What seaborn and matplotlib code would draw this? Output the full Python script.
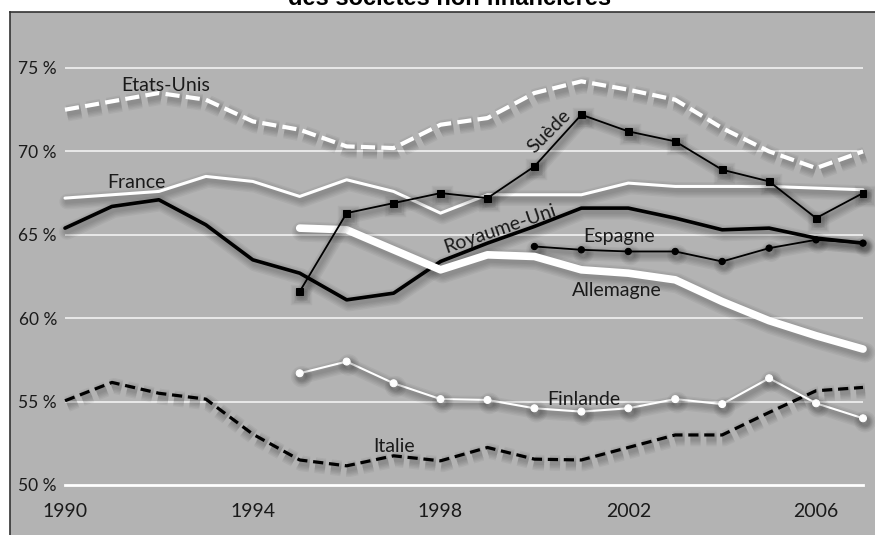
import numpy as np
import pandas as pd
import matplotlib
matplotlib.use("Agg")
import matplotlib.pyplot as plt
import matplotlib.patheffects as pe
import seaborn as sns

nan = np.nan

# Years and share series (%)
years = list(range(1990, 2008))
etats_unis = [72.5, 73.0, 73.5, 73.1, 71.8, 71.3, 70.3, 70.2, 71.6, 72.0,
              73.5, 74.2, 73.7, 73.1, 71.4, 70.0, 69.0, 70.0]
france = [67.2, 67.4, 67.6, 68.5, 68.2, 67.3, 68.3, 67.6, 66.3, 67.4,
          67.4, 67.4, 68.1, 67.9, 67.9, 67.9, 67.8, 67.7]
royaume_uni = [65.4, 66.7, 67.1, 65.6, 63.5, 62.7, 61.1, 61.5, 63.4, 64.5,
               65.5, 66.6, 66.6, 66.0, 65.3, 65.4, 64.8, 64.5]
suede = [nan, nan, nan, nan, nan, 61.6, 66.3, 66.9, 67.5, 67.2,
         69.1, 72.2, 71.2, 70.6, 68.9, 68.2, 66.0, 67.5]
allemagne = [nan, nan, nan, nan, nan, 65.4, 65.3, 64.1, 62.9, 63.8,
             63.7, 62.9, 62.7, 62.3, 61.0, 59.85, 58.95, 58.15]
espagne = [nan, nan, nan, nan, nan, nan, nan, nan, nan, nan,
           64.3, 64.1, 64.0, 64.0, 63.4, 64.2, 64.7, 64.5]
finlande = [nan, nan, nan, nan, nan, 56.7, 57.4, 56.1, 55.15, 55.1,
            54.6, 54.4, 54.6, 55.15, 54.85, 56.4, 54.9, 54.0]
italie = [55.05, 56.15, 55.5, 55.15, 53.05, 51.5, 51.15, 51.75, 51.45, 52.25,
          51.55, 51.5, 52.25, 53.0, 53.0, 54.35, 55.65, 55.85]

y_ticks = [50, 55, 60, 65, 70, 75]
y_tick_labels = ["50 %", "55 %", "60 %", "65 %", "70 %", "75 %"]
x_major = [1990, 1994, 1998, 2002, 2006]
x_minor = [1992, 1996, 2000, 2004, 2007]

df = pd.DataFrame({
    "annee": years,
    "Etats-Unis": etats_unis,
    "France": france,
    "Royaume-Uni": royaume_uni,
    "Suède": suede,
    "Allemagne": allemagne,
    "Espagne": espagne,
    "Finlande": finlande,
    "Italie": italie,
})
long = df.melt(id_vars="annee", var_name="pays", value_name="part").dropna()

sns.set_style("white")
plt.rcParams["font.family"] = ["Lato", "DejaVu Sans"]

BG = "#b3b3b3"
INK = "#1a1a1a"

fig = plt.figure(figsize=(8.75, 5.35), dpi=100)
fig.patch.set_facecolor("white")
ax = fig.add_axes([10 / 875, 0, 865 / 875, 523 / 535])
ax.set_facecolor(BG)

px_year = 798 / 17
px_pct = 417 / 25
x0 = 1990 - 55 / px_year
y1 = 75 + 56 / px_pct
ax.set_xlim(x0, x0 + 865 / px_year)
ax.set_ylim(y1 - 523 / px_pct, y1)


def soft_shadow(lw):
    # several wide, faint offset strokes give a blurred drop shadow
    fx = [pe.SimpleLineShadow(offset=(1.5, -2.5), shadow_color="black",
                              alpha=0.045, linewidth=lw + w)
          for w in (9, 7, 5, 3, 1)]
    return fx + [pe.Normal()]


# White horizontal guides
for v in y_ticks[1:]:
    ax.hlines(v, 1990, 2007, color="#f2f2f2", linewidth=1.2, zorder=1)

styles = {
    "Italie": dict(color="black", linewidth=2.3, linestyle=(0, (3.2, 1.8))),
    "Finlande": dict(color="white", linewidth=1.5, marker="o", markersize=5,
                     markeredgecolor="white", markerfacecolor="white"),
    "Espagne": dict(color="black", linewidth=1.3, marker="o", markersize=4.5,
                    markeredgecolor="black", markerfacecolor="black"),
    "Royaume-Uni": dict(color="black", linewidth=2.6),
    "Allemagne": dict(color="white", linewidth=5.5, solid_capstyle="round"),
    "France": dict(color="white", linewidth=2.2),
    "Suède": dict(color="black", linewidth=1.3, marker="s", markersize=5,
                  markeredgecolor="black", markerfacecolor="black"),
    "Etats-Unis": dict(color="white", linewidth=3.0, linestyle=(0, (3.4, 1.5))),
}

for z, (pays, kw) in enumerate(styles.items()):
    sub = long[long["pays"] == pays]
    sns.lineplot(data=sub, x="annee", y="part", ax=ax, zorder=3 + z,
                 path_effects=soft_shadow(kw["linewidth"]), **kw)

# Series names
lab = dict(color=INK, fontsize=14, zorder=20)
ax.text(1992.15, 73.65, "Etats-Unis", ha="center", va="baseline", **lab)
ax.text(1991.52, 67.8, "France", ha="center", va="baseline", **lab)
ax.text(2001.8, 64.57, "Espagne", ha="center", va="baseline", **lab)
ax.text(2001.76, 61.33, "Allemagne", ha="center", va="baseline", **lab)
ax.text(2001.05, 54.8, "Finlande", ha="center", va="baseline", **lab)
ax.text(1997.01, 52.0, "Italie", ha="center", va="baseline", **lab)
ax.text(2000.32, 71.22, "Suède", ha="center", va="center", rotation=45,
        rotation_mode="anchor", **lab)
ax.text(1999.26, 65.35, "Royaume-Uni", ha="center", va="center", rotation=19,
        rotation_mode="anchor", **lab)

# Axes styling
for s in ("left", "top"):
    ax.spines[s].set_color("#333333")
    ax.spines[s].set_linewidth(1.2)
ax.spines["right"].set_visible(False)

ax.spines["bottom"].set_position(("data", 50))
ax.spines["bottom"].set_bounds(1990, 2007)
ax.spines["bottom"].set_color("white")
ax.spines["bottom"].set_linewidth(2.0)

ax.set_xticks(x_major)
ax.set_xticklabels([str(y) for y in x_major])
ax.set_xticks(x_minor, minor=True)
ax.tick_params(axis="x", which="both", direction="out", length=5, width=1.2,
               color="white", labelsize=14, labelcolor=INK, pad=8)

ax.set_yticks(y_ticks)
ax.set_yticklabels(y_tick_labels)
ax.tick_params(axis="y", length=0, pad=-47 * 72 / 100, labelsize=12.5,
               labelcolor=INK)
ax.set_xlabel("")
ax.set_ylabel("")
ax.grid(False)

fig.text(450 / 875, 1 - 5 / 535, "des sociétés non financières", ha="center",
         va="baseline", fontsize=17, fontweight="bold",
         family=["Liberation Sans", "DejaVu Sans"], color="black")

fig.savefig("out.png", dpi=100, facecolor=fig.get_facecolor())
